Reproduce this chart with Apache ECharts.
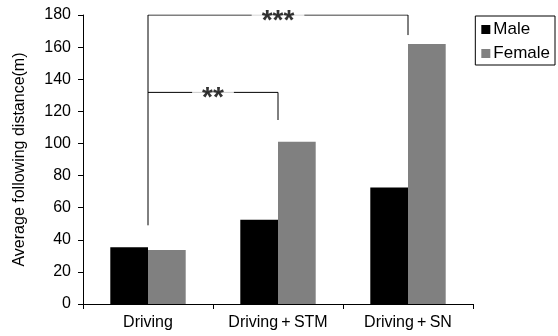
<!DOCTYPE html>
<html>
<head>
<meta charset="utf-8">
<script src="https://cdn.jsdelivr.net/npm/echarts@6/dist/echarts.min.js"></script>
<style>html,body{margin:0;padding:0;background:#fff;}#c{width:558px;height:336px;}</style>
</head>
<body>
<div id="c"></div>
<script>
var categories = ['Driving', 'Driving\u2009+\u2009STM', 'Driving\u2009+\u2009SN'];
var maleValues = [35.3, 52.5, 72.6];
var femaleValues = [33.6, 101, 161.9];
var yTicks = [0, 20, 40, 60, 80, 100, 120, 140, 160, 180];
// significance brackets: [categoryPosition (index+0.5 = centre), value]
var bracketOuter = [[0.5, 49], [0.5, 180], [2.5, 180], [2.5, 167.5]];
var bracketInner = [[0.5, 131.8], [1.5, 131.8], [1.5, 114.6]];
var sigLabels = [[1.5, 180, '***'], [1.0, 131.8, '**']];

var font = 'Liberation Sans, Arial, sans-serif';
var chart = echarts.init(document.getElementById('c'));
chart.setOption({
  animation: false,
  backgroundColor: '#fff',
  textStyle: { fontFamily: font, color: '#000' },
  grid: { left: 83, right: 85, top: 15, bottom: 32, containLabel: false },
  legend: {
    orient: 'vertical', right: 3, top: 16,
    borderColor: '#000', borderWidth: 1, borderRadius: 0,
    padding: [4, 5, 2, 6], itemGap: 5, itemWidth: 9, itemHeight: 9,
    icon: 'rect',
    textStyle: { fontFamily: font, fontSize: 17, color: '#000', lineHeight: 19, padding: [0, 0, 0, -2] },
    data: ['Male', 'Female']
  },
  xAxis: [{
    type: 'category', data: categories,
    axisLine: { lineStyle: { color: '#000', width: 1 } },
    axisTick: { show: true, length: 5, lineStyle: { color: '#000' } },
    axisLabel: { color: '#000', fontSize: 16, margin: 11, fontFamily: font,
      interval: 0, hideOverlap: false }
  }, {
    type: 'value', min: 0, max: 3, show: false
  }],
  yAxis: {
    type: 'value', min: 0, max: 180, interval: 20,
    name: 'Average following distance(m)', nameLocation: 'middle', nameGap: 55,
    nameTextStyle: { fontSize: 16, color: '#000', fontFamily: font },
    axisLine: { show: true, lineStyle: { color: '#000', width: 1 } },
    axisTick: { show: true, length: 5, lineStyle: { color: '#000' } },
    axisLabel: { color: '#000', fontSize: 16, margin: 12, fontFamily: font,
      customValues: yTicks },
    splitLine: { show: false }
  },
  series: [{
    name: 'Male', type: 'bar', data: maleValues, barGap: '0%', barCategoryGap: '42%',
    itemStyle: { color: '#000' }
  }, {
    name: 'Female', type: 'bar', data: femaleValues, barGap: '0%', barCategoryGap: '42%',
    itemStyle: { color: '#808080' }
  }, {
    type: 'line', xAxisIndex: 1, data: bracketOuter, symbol: 'none',
    lineStyle: { color: '#000', width: 1 }, silent: true, z: 5
  }, {
    type: 'line', xAxisIndex: 1, data: bracketInner, symbol: 'none',
    lineStyle: { color: '#000', width: 1 }, silent: true, z: 5
  }, {
    type: 'scatter', xAxisIndex: 1, symbolSize: 0, z: 10, silent: true,
    data: sigLabels,
    label: {
      show: true, position: 'inside',
      formatter: function (p) { return p.data[2]; },
      fontSize: 28, fontWeight: 'bold', color: '#000', fontFamily: font,
      backgroundColor: '#fff', padding: [0, 10, 0, 10], offset: [0, 6], lineHeight: 16
    }
  }]
});
</script>
</body>
</html>
